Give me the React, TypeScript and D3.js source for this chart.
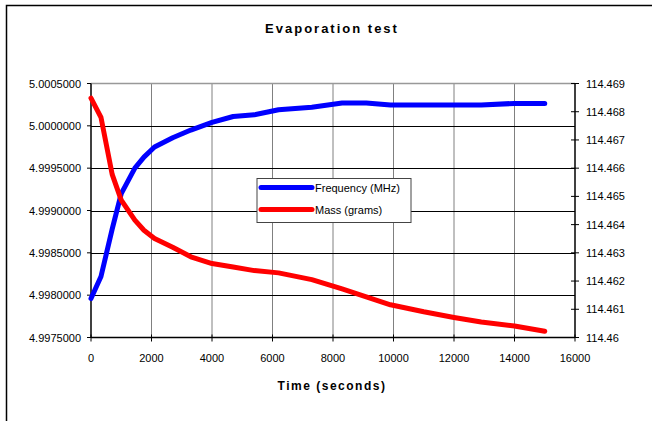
import React from "react";
import * as d3 from "d3";

const times = [0, 330, 700, 1000, 1450, 1750, 2100, 2700, 3300, 4000, 4700, 5400, 6200, 7300, 8300, 9100, 9900, 11000, 12000, 12900, 14000, 15000];
const frequency = [4.99796, 4.99822, 4.99878, 4.99920, 4.99950, 4.99963, 4.99975, 4.99986, 4.99995, 5.00004, 5.00011, 5.00013, 5.00019, 5.00022, 5.00027, 5.00027, 5.000245, 5.000245, 5.000245, 5.000245, 5.000265, 5.000265];
const mass = [114.46848, 114.4678, 114.46578, 114.46487, 114.46416, 114.4638, 114.46351, 114.4632, 114.46286, 114.46262, 114.4625, 114.46237, 114.46229, 114.46205, 114.46172, 114.46144, 114.46116, 114.46091, 114.46071, 114.46055, 114.46041, 114.46022];
const xTicks = [0, 2000, 4000, 6000, 8000, 10000, 12000, 14000, 16000];
const leftTicks = [4.9975, 4.998, 4.9985, 4.999, 4.9995, 5.0, 5.0005];
const rightTicks = [114.46, 114.461, 114.462, 114.463, 114.464, 114.465, 114.466, 114.467, 114.468, 114.469];
const seriesNames = ["Frequency (MHz)", "Mass (grams)"];
const seriesColors = ["#0000ff", "#ff0000"];
const title = "Evaporation test";
const xTitle = "Time (seconds)";

const W = 652, H = 421;
const L = 91, R = 575, T = 83.5, B = 337.5;
const FONT = "'Liberation Sans', Arial, sans-serif";

export default function App() {
  const x = d3.scaleLinear().domain([0, 16000]).range([L, R]);
  const yL = d3.scaleLinear().domain([4.9975, 5.0005]).range([B, T]);
  const yR = d3.scaleLinear().domain([114.46, 114.469]).range([B, T]);
  const idx = times.map((_, i) => i);
  const freqLine = d3.line<number>().x(i => x(times[i])).y(i => yL(frequency[i]));
  const massLine = d3.line<number>().x(i => x(times[i])).y(i => yR(mass[i]));

  const lx = 257, ly = 178.5, lw = 154, lh = 44;

  return (
    <svg width={W} height={H} style={{ position: "absolute", left: 0, top: 0, background: "#fff" }} fontFamily={FONT}>
      <rect x={0} y={0} width={W} height={H} fill="#fff" />
      <rect x={6.5} y={5.5} width={W + 10} height={H + 10} fill="none" stroke="#000" strokeWidth={1.5} />
      <text x={332} y={33} textAnchor="middle" fontSize={13} fontWeight="bold" letterSpacing={2}>{title}</text>

      {/* vertical gridlines */}
      {xTicks.slice(1, -1).map(t => (
        <line key={"vg" + t} x1={x(t)} x2={x(t)} y1={T} y2={B} stroke="#808080" strokeWidth={1} />
      ))}
      {/* top border gray */}
      <line x1={L} x2={R} y1={T} y2={T} stroke="#999" strokeWidth={1.5} />
      {/* horizontal gridlines */}
      {leftTicks.slice(1, -1).map(t => (
        <line key={"hg" + t} x1={L} x2={R} y1={Math.round(yL(t)) + 0.5} y2={Math.round(yL(t)) + 0.5} stroke="#000" strokeWidth={1} />
      ))}

      {/* axes */}
      <line x1={L} x2={L} y1={T} y2={B} stroke="#000" strokeWidth={1.5} />
      <line x1={R} x2={R} y1={T} y2={B} stroke="#000" strokeWidth={1.5} />
      <line x1={L} x2={R} y1={B} y2={B} stroke="#000" strokeWidth={1.5} />

      {leftTicks.map(t => (
        <g key={"lt" + t}>
          <line x1={L - 4} x2={L} y1={yL(t)} y2={yL(t)} stroke="#000" />
          <text x={81} y={yL(t) + 4} textAnchor="end" fontSize={11}>{t.toFixed(7)}</text>
        </g>
      ))}
      {rightTicks.map(t => (
        <g key={"rt" + t}>
          <line x1={R - 4} x2={R + 4} y1={yR(t)} y2={yR(t)} stroke="#000" />
          <text x={586} y={yR(t) + 4} textAnchor="start" fontSize={11}>{String(+t.toFixed(3))}</text>
        </g>
      ))}
      {xTicks.map(t => (
        <g key={"xt" + t}>
          <line x1={x(t)} x2={x(t)} y1={B - 3} y2={B + 4} stroke="#000" />
          <text x={x(t)} y={362} textAnchor="middle" fontSize={11}>{t}</text>
        </g>
      ))}
      <text x={332} y={390} textAnchor="middle" fontSize={12} fontWeight="bold" letterSpacing={1.5}>{xTitle}</text>

      <path d={freqLine(idx) || ""} fill="none" stroke={seriesColors[0]} strokeWidth={5} strokeLinejoin="round" strokeLinecap="round" />
      <path d={massLine(idx) || ""} fill="none" stroke={seriesColors[1]} strokeWidth={5} strokeLinejoin="round" strokeLinecap="round" />

      {/* legend */}
      <rect x={lx} y={ly} width={lw} height={lh} fill="#fff" stroke="#444" strokeWidth={1} />
      {seriesNames.map((n, i) => (
        <g key={n}>
          <line x1={261} x2={312} y1={187.5 + i * 22} y2={187.5 + i * 22} stroke={seriesColors[i]} strokeWidth={5} strokeLinecap="round" />
          <text x={315} y={191.5 + i * 22} fontSize={11}>{n}</text>
        </g>
      ))}
    </svg>
  );
}
